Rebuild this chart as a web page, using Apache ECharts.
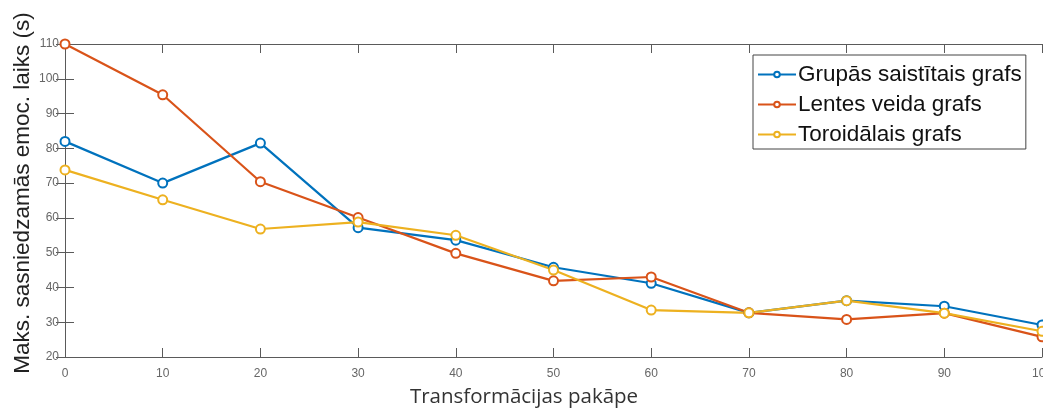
<!DOCTYPE html>
<html>
<head>
<meta charset="utf-8">
<script src="https://cdn.jsdelivr.net/npm/echarts@6/dist/echarts.min.js"></script>
<style>
  html, body { margin: 0; padding: 0; background: #fff; }
  #chart { width: 1043px; height: 411px; }
</style>
</head>
<body>
<div id="chart"></div>
<script>
// Transformation degree on the x axis
const steps = [0, 10, 20, 30, 40, 50, 60, 70, 80, 90, 100];
const xTicks = ['0', '10', '20', '30', '40', '50', '60', '70', '80', '90', '100'];

// Max reachable emotion time (s) per graph type
const seriesNames = ['Grupās saistītais grafs', 'Lentes veida grafs', 'Toroidālais grafs'];
const grupas  = [82, 70, 81.5, 57.2, 53.6, 45.8, 41.2, 32.7, 36.2, 34.6, 29.2];
const lentes  = [110, 95.4, 70.4, 60.1, 49.8, 41.9, 43.0, 32.7, 30.8, 32.6, 25.8];
const toroid  = [73.8, 65.2, 56.8, 58.8, 55.0, 45.0, 33.5, 32.7, 36.2, 32.6, 27.4];

const colors = ['#0072BD', '#D95319', '#EDB120'];

const pairs = (ys) => steps.map((x, i) => [x, ys[i]]);

const chart = echarts.init(document.getElementById('chart'), null, { renderer: 'canvas' });

const axisGray = '#5a5a5a';
const tickFont = { fontFamily: 'Liberation Sans, Arial, sans-serif', fontSize: 12, color: '#666' };

const mkSeries = (name, ys, color) => ({
  name: name,
  type: 'line',
  data: pairs(ys),
  symbol: 'circle',
  symbolSize: 9,
  showSymbol: true,
  lineStyle: { color: color, width: 2.2 },
  itemStyle: { color: '#ffffff', borderColor: color, borderWidth: 2 },
  emphasis: { disabled: true },
  animation: false,
  z: 3
});

const boxAxis = {
  axisLine: { show: true, lineStyle: { color: axisGray, width: 1 } },
  axisTick: { show: true, inside: true, length: 9, lineStyle: { color: axisGray } },
  splitLine: { show: false }
};

chart.setOption({
  animation: false,
  backgroundColor: '#ffffff',
  grid: { left: 65, right: 1, top: 44, bottom: 54, containLabel: false, outerBoundsMode: 'none' },
  legend: {
    data: seriesNames,
    orient: 'vertical',
    left: 753,
    top: 55,
    width: 279,
    itemWidth: 38,
    itemHeight: 7,
    itemGap: 7,
    padding: [8, 4, 3, 4],
    backgroundColor: '#ffffff',
    borderColor: '#444',
    borderWidth: 1,
    textStyle: { fontFamily: 'Liberation Sans, Arial, sans-serif', fontSize: 22.5, color: '#111', padding: [0, 0, 0, -3] }
  },
  xAxis: [
    Object.assign({
      type: 'value', min: 0, max: 100, interval: 10,
      axisLabel: Object.assign({ margin: 11, formatter: (v) => xTicks[steps.indexOf(v)] }, tickFont)
    }, boxAxis),
    Object.assign({
      type: 'value', min: 0, max: 100, interval: 10, position: 'top',
      axisLabel: { show: false }
    }, boxAxis)
  ],
  yAxis: [
    Object.assign({
      type: 'value', min: 20, max: 110, interval: 10,
      axisLabel: Object.assign({ margin: 6 }, tickFont)
    }, boxAxis),
    Object.assign({
      type: 'value', min: 20, max: 110, interval: 10, position: 'right',
      axisLabel: { show: false }
    }, boxAxis)
  ],
  graphic: [
    {
      type: 'text',
      x: 23,
      y: 193,
      rotation: Math.PI / 2,
      style: {
        text: 'Maks. sasniedzamās emoc. laiks (s)',
        font: '22.5px "Liberation Sans", Arial, sans-serif',
        fill: '#222',
        align: 'center',
        verticalAlign: 'middle'
      }
    },
    {
      type: 'text',
      x: 524,
      y: 397,
      style: {
        text: 'Transformācijas pakāpe',
        font: '20.5px "Open Sans", "Noto Sans", sans-serif',
        fill: '#333',
        align: 'center',
        verticalAlign: 'middle'
      }
    }
  ],
  series: [
    mkSeries(seriesNames[0], grupas, colors[0]),
    mkSeries(seriesNames[1], lentes, colors[1]),
    mkSeries(seriesNames[2], toroid, colors[2])
  ]
});
</script>
</body>
</html>
